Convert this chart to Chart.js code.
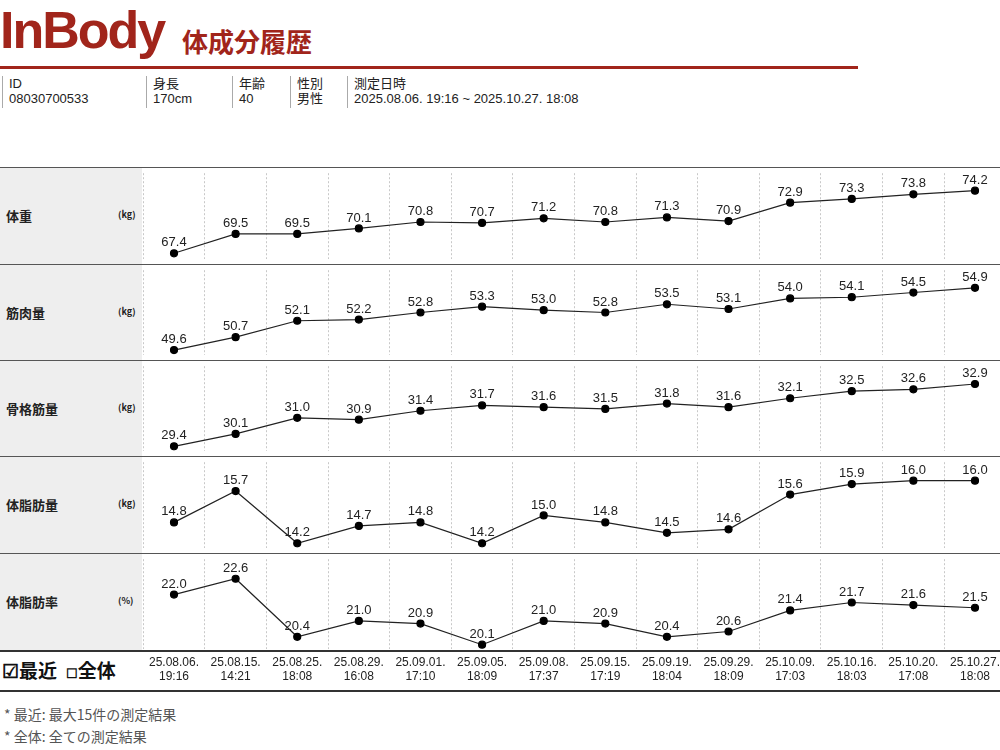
<!DOCTYPE html>
<html><head><meta charset="utf-8">
<script src="https://cdn.jsdelivr.net/npm/chart.js@4"></script>
<style>
body{margin:0;width:1000px;height:750px;background:#fff;font-family:"Noto Sans CJK JP","Liberation Sans",sans-serif;position:relative;overflow:hidden}
.abs{position:absolute}
.logo{left:0px;top:0px;font:bold 52px "Liberation Sans",Arial,sans-serif;color:#a1251b;letter-spacing:-2px}
.title{left:182px;top:22px;font:bold 26px "Noto Sans CJK JP";color:#a1251b}
.redline{left:0;top:66px;width:858px;height:3px;background:#a1251b}
.info{top:76px;font:13px "Liberation Sans","Noto Sans CJK JP";color:#222;line-height:15px;border-left:1px solid #aaa;padding-left:6px;height:32px}
.row{left:0;width:1000px;border-top:1px solid #555}
.lab{left:0;width:142px;background:#eee;font:bold 13px "Noto Sans CJK JP";color:#222}
.note{left:4px;font:14px "Noto Sans CJK JP";color:#555}
</style></head><body>
<div class="abs logo">InBody</div>
<div class="abs title">体成分履歴</div>
<div class="abs redline"></div>
<div class="abs info" style="left:2px">ID<br>08030700533</div>
<div class="abs info" style="left:146px">身長<br>170cm</div>
<div class="abs info" style="left:232px">年齢<br>40</div>
<div class="abs info" style="left:290px">性別<br>男性</div>
<div class="abs info" style="left:347px">測定日時<br>2025.08.06. 19:16 ~ 2025.10.27. 18:08</div>
<div id="labs"></div>
<div class="abs" style="left:2px;top:656px;font:bold 19px 'Noto Sans CJK JP';color:#111">☑最近 &nbsp;<span style="font-size:13px">☐</span>全体</div>
<div class="abs note" style="top:704px">* 最近: 最大15件の測定結果</div>
<div class="abs note" style="top:726px">* 全体: 全ての測定結果</div>
<div id="charts"></div>
<script>
const dates=[["25.08.06.","19:16"],["25.08.15.","14:21"],["25.08.25.","18:08"],["25.08.29.","16:08"],["25.09.01.","17:10"],["25.09.05.","18:09"],["25.09.08.","17:37"],["25.09.15.","17:19"],["25.09.19.","18:04"],["25.09.29.","18:09"],["25.10.09.","17:03"],["25.10.16.","18:03"],["25.10.20.","17:08"],["25.10.27.","18:08"]];
const names=["体重","筋肉量","骨格筋量","体脂肪量","体脂肪率"];
const units=["(kg)","(kg)","(kg)","(kg)","(%)"];
const weight=[67.4,69.5,69.5,70.1,70.8,70.7,71.2,70.8,71.3,70.9,72.9,73.3,73.8,74.2];
const muscle=[49.6,50.7,52.1,52.2,52.8,53.3,53.0,52.8,53.5,53.1,54.0,54.1,54.5,54.9];
const skeletal=[29.4,30.1,31.0,30.9,31.4,31.7,31.6,31.5,31.8,31.6,32.1,32.5,32.6,32.9];
const fatMass=[14.8,15.7,14.2,14.7,14.8,14.2,15.0,14.8,14.5,14.6,15.6,15.9,16.0,16.0];
const fatPct=[22.0,22.6,20.4,21.0,20.9,20.1,21.0,20.9,20.4,20.6,21.4,21.7,21.6,21.5];
const series=[weight,muscle,skeletal,fatMass,fatPct];
const ranges=[[66.8,76.1],[49.2,56.4],[29.15,33.9],[14.07,16.53],[19.93,23.34]];
const tops=[167,264,360,456,553,650];
const labs=document.getElementById('labs'),box=document.getElementById('charts');
for(let i=0;i<5;i++){
  const d=document.createElement('div');d.className='abs lab';
  d.style.top=(tops[i]+1)+'px';d.style.height=(tops[i+1]-tops[i]-1)+'px';
  d.innerHTML=`<span class="abs" style="left:6px;top:38px">${names[i]}</span><span class="abs" style="left:118px;top:40px;font-size:9px">${units[i]}</span>`;
  labs.appendChild(d);
}
const valPlugin={id:'vals',afterDatasetsDraw(c){const ctx=c.ctx;const m=c.getDatasetMeta(0);ctx.save();ctx.font='13px "Liberation Sans",Arial';ctx.fillStyle='#222';ctx.textAlign='center';ctx.textBaseline='bottom';
 m.data.forEach((p,j)=>{ctx.fillText(c.data.datasets[0].data[j].toFixed(1),p.x,p.y-4)});ctx.restore();}};
for(let i=0;i<5;i++){
  const last=i==4;
  const h=(tops[i+1]-tops[i]-1)+(last?40:0);
  const cv=document.createElement('canvas');
  const wr=document.createElement('div');wr.className='abs';
  wr.style.cssText=`left:138px;top:${tops[i]+1}px;width:873px;height:${h}px`;
  wr.appendChild(cv);box.appendChild(wr);
  new Chart(cv,{type:'line',data:{labels:dates,datasets:[{data:series[i],borderColor:'#222',borderWidth:1.2,pointRadius:3.5,pointBackgroundColor:'#000',pointBorderColor:'#000',tension:0}]},
   options:{responsive:true,maintainAspectRatio:false,animation:false,layout:{padding:0},
    plugins:{legend:{display:false},tooltip:{enabled:false}},
    scales:{x:{offset:true,grid:{offset:true,color:'#c8c8c8',drawTicks:false},border:{display:false,dash:[2,2]},
      ticks:{display:last,color:'#222',font:{size:12,family:'"Liberation Sans",Arial'},padding:6,maxRotation:0,autoSkip:false}},
     y:{display:false,min:ranges[i][0],max:ranges[i][1]}}},
   plugins:[valPlugin]});
}
for(let i=0;i<=6;i++){
  const l=document.createElement('div');l.className='abs row';
  l.style.top=(i<6?tops[i]:690)+'px';l.style.height='0';
  if(i>=5){l.style.borderTop='2px solid #333'}
  box.appendChild(l);
}
</script>
</body></html>
